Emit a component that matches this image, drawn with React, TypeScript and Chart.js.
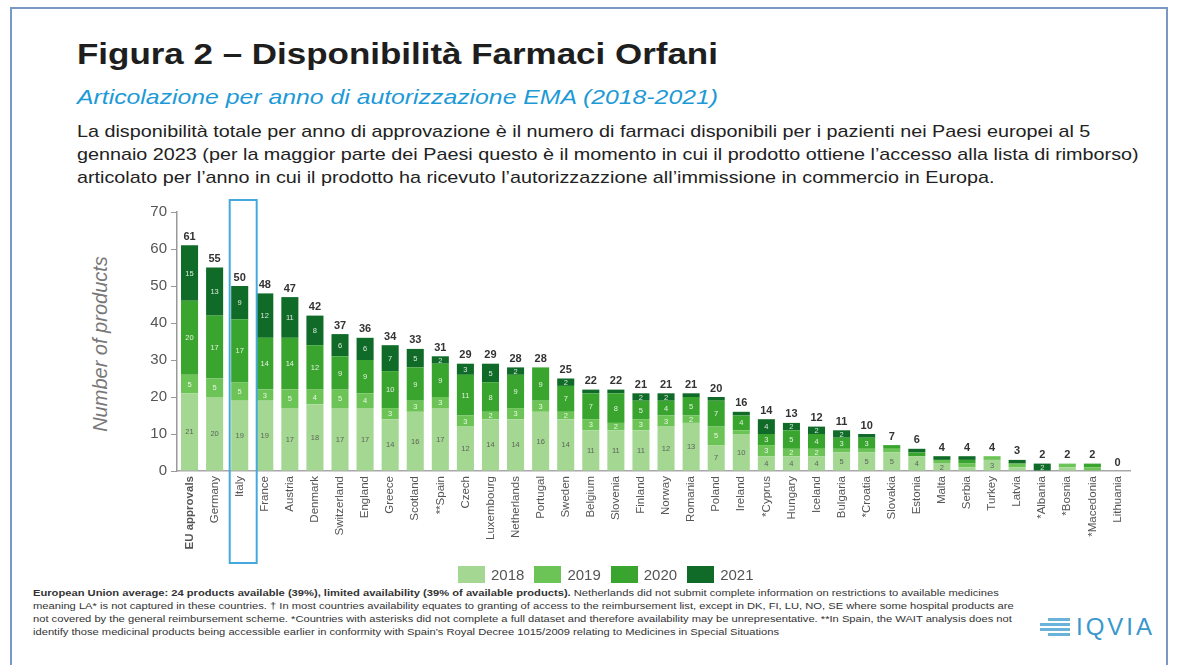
import React, { useEffect, useRef } from "react";
import { Chart, registerables } from "chart.js";

Chart.register(...registerables);

const countries = [
  "EU approvals", "Germany", "Italy", "France", "Austria", "Denmark", "Switzerland", "England",
  "Greece", "Scotland", "**Spain", "Czech", "Luxembourg", "Netherlands", "Portugal", "Sweden",
  "Belgium", "Slovenia", "Finland", "Norway", "Romania", "Poland", "Ireland", "*Cyprus",
  "Hungary", "Iceland", "Bulgaria", "*Croatia", "Slovakia", "Estonia", "Malta", "Serbia",
  "Turkey", "Latvia", "*Albania", "*Bosnia", "*Macedonia", "Lithuania",
];

const y2018 = [21, 20, 19, 19, 17, 18, 17, 17, 14, 16, 17, 12, 14, 14, 16, 14, 11, 11, 11, 12, 13, 7, 10, 4, 4, 4, 5, 5, 5, 4, 2, 1, 3, 1, 0, 1, 0, 0];
const y2019 = [5, 5, 5, 3, 5, 4, 5, 4, 3, 3, 3, 3, 2, 3, 3, 2, 3, 2, 3, 3, 2, 5, 1, 3, 2, 2, 1, 1, 1, 0, 1, 1, 1, 1, 0, 1, 1, 0];
const y2020 = [20, 17, 17, 14, 14, 12, 9, 9, 10, 9, 9, 11, 8, 9, 9, 7, 7, 8, 5, 4, 5, 7, 4, 3, 5, 4, 3, 3, 1, 1, 0, 1, 0, 0, 0, 0, 1, 0];
const y2021 = [15, 13, 9, 12, 11, 8, 6, 6, 7, 5, 2, 3, 5, 2, 0, 2, 1, 1, 2, 2, 1, 1, 1, 4, 2, 2, 2, 1, 0, 1, 1, 1, 0, 1, 2, 0, 0, 0];
const totals = [61, 55, 50, 48, 47, 42, 37, 36, 34, 33, 31, 29, 29, 28, 28, 25, 22, 22, 21, 21, 21, 20, 16, 14, 13, 12, 11, 10, 7, 6, 4, 4, 4, 3, 2, 2, 2, 0];

const seriesNames = ["2018", "2019", "2020", "2021"];
const seriesColors = ["#a3d792", "#6cc457", "#3aa52e", "#0f6b27"];
const yTicks = [0, 10, 20, 30, 40, 50, 60, 70];
const highlightIndex = 2;

const FONT = "'Liberation Sans', Arial, sans-serif";

export default function App() {
  const ref = useRef<HTMLCanvasElement | null>(null);

  useEffect(() => {
    if (!ref.current) return;
    const labelPlugin = {
      id: "labels",
      afterDatasetsDraw(chart: any) {
        const ctx = chart.ctx;
        ctx.save();
        ctx.textAlign = "center";
        ctx.textBaseline = "middle";
        chart.data.datasets.forEach((ds: any, di: number) => {
          const meta = chart.getDatasetMeta(di);
          meta.data.forEach((bar: any, i: number) => {
            const v = ds.data[i];
            if (!v || v < 2) return;
            const yc = (bar.y + bar.base) / 2;
            ctx.font = `7.5px ${FONT}`;
            ctx.fillStyle = di === 0 ? "rgba(80,80,80,0.85)" : "rgba(255,255,255,0.85)";
            ctx.fillText(String(v), bar.x, yc + 0.5);
          });
        });
        const xs = chart.scales.x;
        const ys = chart.scales.y;
        ctx.font = `bold 11px ${FONT}`;
        ctx.fillStyle = "#333";
        ctx.textBaseline = "bottom";
        totals.forEach((t, i) => {
          ctx.fillText(String(t), xs.getPixelForValue(i), ys.getPixelForValue(t) - 3);
        });
        ctx.restore();
      },
      afterDraw(chart: any) {
        const ctx = chart.ctx;
        const xs = chart.scales.x;
        const cx = xs.getPixelForValue(highlightIndex);
        ctx.save();
        ctx.strokeStyle = "#45a9dc";
        ctx.lineWidth = 2;
        ctx.strokeRect(cx - 10, 10, 27, 363);
        ctx.restore();
      },
    };

    const chart = new Chart(ref.current, {
      type: "bar",
      data: {
        labels: countries,
        datasets: seriesNames.map((name, k) => ({
          label: name,
          data: [y2018, y2019, y2020, y2021][k],
          backgroundColor: seriesColors[k],
          borderWidth: 0,
          barPercentage: 0.68,
          categoryPercentage: 1,
        })),
      },
      options: {
        responsive: false,
        animation: false,
        layout: { padding: { top: 22, left: 0, right: 49, bottom: 0 } },
        plugins: { legend: { display: false }, tooltip: { enabled: false } },
        scales: {
          x: {
            stacked: true,
            grid: { display: false, drawTicks: false },
            border: { display: true, color: "#a8a8a8", width: 1.5 },
            afterFit: (s: any) => { s.height = 99; },
            ticks: {
              autoSkip: false,
              maxRotation: 90,
              minRotation: 90,
              padding: 5,
              color: "#555",
              font: (c: any) => ({ family: FONT, size: 11.5, weight: c.index === 0 ? "bold" : "normal" }),
            },
          },
          y: {
            stacked: true,
            min: 0,
            max: 70,
            afterFit: (s: any) => { s.width = 177; },
            afterBuildTicks: (s: any) => { s.ticks = yTicks.map((v) => ({ value: v })); },
            grid: { drawOnChartArea: false, drawTicks: true, tickLength: 6, color: "#999" },
            border: { display: true, color: "#999", width: 1.5 },
            ticks: { padding: 4, color: "#555", font: { family: FONT, size: 15 } },
          },
        },
      },
      plugins: [labelPlugin],
    });
    return () => chart.destroy();
  }, []);

  const legendItems = seriesNames.map((n, i) => (
    <div key={n} style={{ display: "flex", alignItems: "center", marginRight: 10 }}>
      <div style={{ width: 27, height: 17, background: seriesColors[i], marginRight: 6 }} />
      <span style={{ fontSize: 15, color: "#555" }}>{n}</span>
    </div>
  ));

  return (
    <div style={{ position: "fixed", left: 0, top: 0, width: 1179, height: 665, background: "#fff", overflow: "hidden", fontFamily: FONT }}>
      <div style={{ position: "absolute", left: 10, top: 7, width: 1158, height: 700, border: "2px solid #7a98c4", boxSizing: "border-box" }} />
      <div style={{ position: "absolute", left: 77, top: 37, fontSize: 30, fontWeight: "bold", color: "#1e1e1e", whiteSpace: "nowrap", transform: "scaleX(1.165)", transformOrigin: "left center" }}>
        Figura 2 – Disponibilità Farmaci Orfani
      </div>
      <div style={{ position: "absolute", left: 77, top: 85, fontSize: 21, fontStyle: "italic", color: "#1d9ad6", whiteSpace: "nowrap", transform: "scaleX(1.18)", transformOrigin: "left center" }}>
        Articolazione per anno di autorizzazione EMA (2018-2021)
      </div>
      <div style={{ position: "absolute", left: 77, top: 120, fontSize: 17, lineHeight: "23px", color: "#222", whiteSpace: "nowrap", transform: "scaleX(1.163)", transformOrigin: "left top" }}>
        La disponibilità totale per anno di approvazione è il numero di farmaci disponibili per i pazienti nei Paesi europei al 5<br />
        gennaio 2023 (per la maggior parte dei Paesi questo è il momento in cui il prodotto ottiene l’accesso alla lista di rimborso)<br />
        articolato per l’anno in cui il prodotto ha ricevuto l’autorizzazzione all’immissione in commercio in Europa.
      </div>
      <div style={{ position: "absolute", left: 100, top: 344, transform: "translate(-50%,-50%) rotate(-90deg)", fontSize: 20, fontStyle: "italic", color: "#777", whiteSpace: "nowrap" }}>
        Number of products
      </div>
      <canvas ref={ref} width={1179} height={380} style={{ position: "absolute", left: 0, top: 190, width: 1179, height: 380 }} />
      <div style={{ position: "absolute", left: 458, top: 566, display: "flex" }}>{legendItems}</div>
      <div style={{ position: "absolute", left: 33, top: 587, fontSize: 9, lineHeight: "13px", color: "#333", whiteSpace: "nowrap", transform: "scaleX(1.24)", transformOrigin: "left top" }}>
        <b>European Union average: 24 products available (39%), limited availability (39% of available products).</b> Netherlands did not submit complete information on restrictions to available medicines<br />
        meaning LA* is not captured in these countries. † In most countries availability equates to granting of access to the reimbursement list, except in DK, FI, LU, NO, SE where some hospital products are<br />
        not covered by the general reimbursement scheme. *Countries with asterisks did not complete a full dataset and therefore availability may be unrepresentative. **In Spain, the WAIT analysis does not<br />
        identify those medicinal products being accessible earlier in conformity with Spain’s Royal Decree 1015/2009 relating to Medicines in Special Situations
      </div>
      <div style={{ position: "absolute", left: 1040, top: 613, display: "flex", alignItems: "center" }}>
        <div style={{ display: "flex", flexDirection: "column", gap: 2, marginRight: 6 }}>
          {[22, 30, 30, 22].map((w, i) => (
            <div key={i} style={{ width: w, height: 3, background: "#6ab2da", marginLeft: 30 - w }} />
          ))}
        </div>
        <span style={{ fontSize: 24, color: "#3a97cc", letterSpacing: 3 }}>IQVIA</span>
      </div>
    </div>
  );
}
